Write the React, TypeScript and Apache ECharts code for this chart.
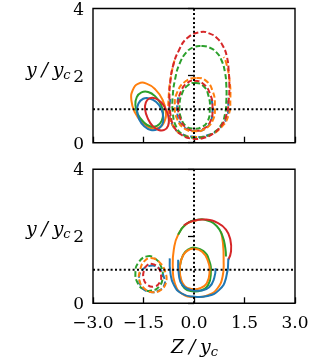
import React, { useEffect, useRef } from 'react';
import * as echarts from 'echarts';

const xTicks = [-3, -1.5, 0, 1.5, 3];
const yTicks = [0, 2, 4];
const C = { blue: '#1f77b4', orange: '#ff7f0e', green: '#2ca02c', red: '#d62728' };

// reference lines
const refVertical = [[0, 0], [0, 4]];
const refHorizontal = [[-3, 1], [3, 1]];

// ---- top panel ----
const topSolidOrange = [[-1.65,1.76],[-1.41,1.76],[-1.15,1.59],[-0.94,1.29],[-0.84,0.94],[-0.88,0.63],[-1.05,0.45],[-1.29,0.44],[-1.55,0.61],[-1.76,0.91],[-1.86,1.26],[-1.82,1.57]];
const topSolidGreen = [[-1.56,1.50],[-1.36,1.51],[-1.15,1.38],[-0.99,1.16],[-0.92,0.88],[-0.96,0.65],[-1.10,0.50],[-1.30,0.49],[-1.50,0.62],[-1.67,0.85],[-1.74,1.12],[-1.70,1.36]];
const topSolidBlue = [[-1.51,1.31],[-1.32,1.32],[-1.12,1.21],[-0.97,1.00],[-0.91,0.75],[-0.95,0.53],[-1.09,0.40],[-1.28,0.38],[-1.48,0.49],[-1.63,0.70],[-1.69,0.95],[-1.65,1.17]];
const topSolidRed = [[-1.32,1.32],[-1.15,1.32],[-0.97,1.20],[-0.83,0.98],[-0.75,0.72],[-0.77,0.50],[-0.88,0.38],[-1.05,0.38],[-1.23,0.50],[-1.37,0.72],[-1.45,0.98],[-1.43,1.20]];

const topBigBlue = [[-0.70,1.30],[-0.73,0.95],[-0.65,0.55],[-0.40,0.28],[0.0,0.18],[0.40,0.22],[0.75,0.42],[0.97,0.75],[1.02,1.10],[1.00,1.35]];
const topBigOrange = [[-0.58,2.45],[-0.68,2.00],[-0.75,1.40],[-0.74,0.90],[-0.62,0.50],[-0.35,0.25],[0.05,0.17],[0.45,0.22],[0.80,0.45],[1.02,0.80],[1.08,1.30],[1.05,1.90],[0.95,2.40],[0.88,2.55]];
const topBigGreen = [[0.22,2.88],[0.45,2.84],[0.66,2.70],[0.82,2.45],[0.92,2.10],[0.96,1.70],[0.96,1.25],[0.92,0.85],[0.80,0.52],[0.58,0.30],[0.28,0.17],[-0.05,0.15],[-0.33,0.24],[-0.53,0.48],[-0.63,0.90],[-0.63,1.40],[-0.56,1.90],[-0.43,2.35],[-0.22,2.70],[0.0,2.85]];
const topBigRed = [[0.20,3.30],[0.45,3.26],[0.68,3.12],[0.86,2.88],[0.98,2.55],[1.03,2.15],[1.05,1.70],[1.03,1.25],[0.97,0.85],[0.82,0.52],[0.58,0.28],[0.28,0.14],[-0.05,0.12],[-0.35,0.22],[-0.58,0.45],[-0.70,0.85],[-0.73,1.35],[-0.70,1.85],[-0.62,2.30],[-0.45,2.75],[-0.20,3.12]];

const topInnerBlue = [[-0.47,1.35],[-0.50,0.95],[-0.42,0.60],[-0.20,0.40],[0.05,0.35],[0.30,0.40],[0.48,0.60],[0.55,0.95],[0.52,1.30]];
const topInnerOrange = [[0.07,1.93],[0.35,1.85],[0.55,1.55],[0.62,1.10],[0.55,0.65],[0.30,0.40],[0.02,0.34],[-0.28,0.42],[-0.50,0.70],[-0.57,1.10],[-0.50,1.50],[-0.25,1.83]];
const topInnerGreen = [[0.02,1.78],[0.27,1.70],[0.43,1.40],[0.47,1.00],[0.40,0.63],[0.20,0.45],[0.0,0.42],[-0.22,0.48],[-0.38,0.72],[-0.43,1.10],[-0.35,1.48],[-0.17,1.72]];
const topInnerRed = [[0.00,1.85],[0.28,1.75],[0.48,1.45],[0.55,1.05],[0.48,0.62],[0.25,0.40],[0.0,0.36],[-0.25,0.45],[-0.42,0.75],[-0.47,1.15],[-0.38,1.55],[-0.20,1.78]];

// ---- bottom panel ----
const botDashBlue = [[-1.30,1.12],[-1.05,1.05],[-0.90,0.80],[-0.88,0.55],[-1.05,0.38],[-1.30,0.34],[-1.52,0.45],[-1.63,0.72],[-1.55,0.98]];
const botDashOrange = [[-1.28,1.35],[-1.02,1.22],[-0.85,0.92],[-0.83,0.62],[-0.98,0.40],[-1.22,0.33],[-1.45,0.42],[-1.62,0.68],[-1.60,1.00],[-1.48,1.25]];
const botDashGreen = [[-1.40,1.40],[-1.15,1.33],[-0.98,1.10],[-0.93,0.80],[-1.02,0.52],[-1.25,0.38],[-1.50,0.42],[-1.68,0.62],[-1.74,0.92],[-1.66,1.20]];
const botDashRed = [[-1.28,1.18],[-1.08,1.08],[-0.98,0.85],[-1.02,0.62],[-1.18,0.50],[-1.38,0.55],[-1.50,0.75],[-1.48,1.00],[-1.40,1.13]];

const botOrangeBig = [[0.80,2.14],[0.86,1.80],[0.88,1.30],[0.85,0.80],[0.70,0.45],[0.45,0.26],[0.05,0.19],[-0.35,0.28],[-0.57,0.60],[-0.63,1.10],[-0.60,1.60],[-0.47,2.05],[-0.20,2.38],[0.10,2.48]];
const botGreenBig = [[-0.47,2.05],[-0.25,2.35],[0.07,2.49],[0.40,2.47],[0.68,2.30],[0.85,2.00],[0.93,1.65],[0.95,1.40]];
const botRedBig = [[-0.30,2.33],[0.0,2.47],[0.36,2.50],[0.70,2.40],[0.95,2.20],[1.08,1.90],[1.10,1.55],[1.02,1.30]];
const botBlueOuter = [[-0.72,1.34],[-0.70,0.90],[-0.60,0.55],[-0.38,0.30],[-0.03,0.20],[0.40,0.22],[0.75,0.40],[0.95,0.75],[1.02,1.34]];
const botBlueInner = [[-0.47,1.30],[-0.45,0.85],[-0.35,0.55],[-0.10,0.40],[0.20,0.38],[0.45,0.48],[0.60,0.75],[0.64,1.05]];
const botInnerGreen = [[0.02,1.66],[0.28,1.56],[0.45,1.28],[0.50,0.90],[0.42,0.55],[0.20,0.38],[-0.05,0.36],[-0.28,0.45],[-0.40,0.72],[-0.42,1.10],[-0.32,1.45],[-0.15,1.62]];
const botInnerOrange = [[-0.03,1.63],[0.24,1.54],[0.41,1.27],[0.46,0.92],[0.38,0.60],[0.18,0.45],[-0.05,0.43],[-0.28,0.52],[-0.40,0.78],[-0.42,1.10],[-0.33,1.42],[-0.18,1.58]];

const FONT = 'DejaVu Serif';
const DASH = [5.5, 2.6];

// a smooth curve through the points, drawn through the axes' own scales (api.coord)
function curve(points: number[][], color: string, dashed: boolean, idx: number, closed: boolean) {
  return {
    type: 'custom',
    xAxisIndex: idx,
    yAxisIndex: idx,
    silent: true,
    data: points,
    encode: { x: 0, y: 1 },
    renderItem: (params: any, api: any) => {
      if (params.dataIndex !== 0) return null;
      const pts = points.map((p) => api.coord(p));
      return {
        type: closed ? 'polygon' : 'polyline',
        shape: { points: pts, smooth: 0.5 },
        style: {
          fill: 'none',
          stroke: color,
          lineWidth: 2,
          lineDash: dashed ? DASH : null,
        },
      };
    },
  };
}
function refLine(data: number[][], idx: number) {
  return {
    type: 'line',
    xAxisIndex: idx,
    yAxisIndex: idx,
    data,
    symbol: 'none',
    silent: true,
    lineStyle: { color: '#000', width: 2, type: [2, 2.4], cap: 'butt' },
  };
}

const fmtX = (v: number) => (v < 0 ? '\u2212' + Math.abs(v).toFixed(1) : v.toFixed(1));

const richLabel = {
  a: { fontFamily: FONT, fontStyle: 'italic', fontSize: 19, verticalAlign: 'bottom', padding: [0, 0, 3, 0] },
  b: { fontFamily: FONT, fontStyle: 'italic', fontSize: 13, verticalAlign: 'bottom' },
};

export default function App() {
  const ref = useRef<HTMLDivElement>(null);
  useEffect(() => {
    if (!ref.current) return;
    const chart = echarts.init(ref.current, undefined, { renderer: 'svg' });
    const xAxisBase = (idx: number, labels: boolean) => ({
      type: 'value',
      gridIndex: idx,
      min: xTicks[0],
      max: xTicks[xTicks.length - 1],
      interval: 1.5,
      axisLine: { show: false },
      axisTick: { show: true, inside: true, length: 6, lineStyle: { color: '#000', width: 1.3 } },
      splitLine: { show: false },
      axisLabel: {
        show: labels,
        formatter: fmtX,
        color: '#000',
        fontFamily: FONT,
        fontSize: 17,
        margin: 10,
      },
    });
    const yAxisBase = (idx: number) => ({
      type: 'value',
      gridIndex: idx,
      min: yTicks[0],
      max: yTicks[yTicks.length - 1],
      interval: 2,
      axisLine: { show: false },
      axisTick: { show: true, inside: false, length: 6, lineStyle: { color: '#000', width: 1.3 } },
      splitLine: { show: false },
      axisLabel: { color: '#000', fontFamily: FONT, fontSize: 17, margin: 9 },
    });
    const yLabel = (y: number) => ({
      type: 'text',
      left: 26,
      top: y,
      style: { text: '{a|y\u2005/\u2005y}{b|c}', fill: '#000', rich: richLabel },
    });
    chart.setOption({
      animation: false,
      grid: [
        { left: 93, top: 8.3, width: 202, height: 134.4, show: true, borderColor: '#000', borderWidth: 1.4, backgroundColor: 'transparent' },
        { left: 93, top: 169.3, width: 202, height: 134, show: true, borderColor: '#000', borderWidth: 1.4, backgroundColor: 'transparent' },
      ],
      xAxis: [xAxisBase(0, false), xAxisBase(1, true)],
      yAxis: [yAxisBase(0), yAxisBase(1)],
      graphic: [
        yLabel(59),
        yLabel(218),
        {
          type: 'text',
          left: 171,
          top: 336,
          style: { text: '{a|Z\u2005/\u2005y}{b|c}', fill: '#000', rich: richLabel },
        },
      ],
      series: [
        refLine(refVertical, 0),
        refLine(refHorizontal, 0),
        curve(topBigBlue, C.blue, true, 0, false),
        curve(topBigOrange, C.orange, true, 0, false),
        curve(topBigGreen, C.green, true, 0, true),
        curve(topBigRed, C.red, true, 0, true),
        curve(topInnerBlue, C.blue, true, 0, false),
        curve(topInnerGreen, C.green, true, 0, true),
        curve(topInnerRed, C.red, true, 0, true),
        curve(topInnerOrange, C.orange, true, 0, true),
        curve(topSolidOrange, C.orange, false, 0, true),
        curve(topSolidGreen, C.green, false, 0, true),
        curve(topSolidBlue, C.blue, false, 0, true),
        curve(topSolidRed, C.red, false, 0, true),

        refLine(refVertical, 1),
        refLine(refHorizontal, 1),
        curve(botDashGreen, C.green, true, 1, true),
        curve(botDashBlue, C.blue, true, 1, true),
        curve(botDashRed, C.red, true, 1, true),
        curve(botDashOrange, C.orange, true, 1, true),
        curve(botOrangeBig, C.orange, false, 1, false),
        curve(botGreenBig, C.green, false, 1, false),
        curve(botRedBig, C.red, false, 1, false),
        curve(botInnerGreen, C.green, false, 1, true),
        curve(botInnerOrange, C.orange, false, 1, true),
        curve(botBlueInner, C.blue, false, 1, false),
        curve(botBlueOuter, C.blue, false, 1, false),
      ],
    });
    return () => chart.dispose();
  }, []);
  return <div ref={ref} style={{ position: 'fixed', left: 0, top: 0, width: 316, height: 361 }} />;
}
